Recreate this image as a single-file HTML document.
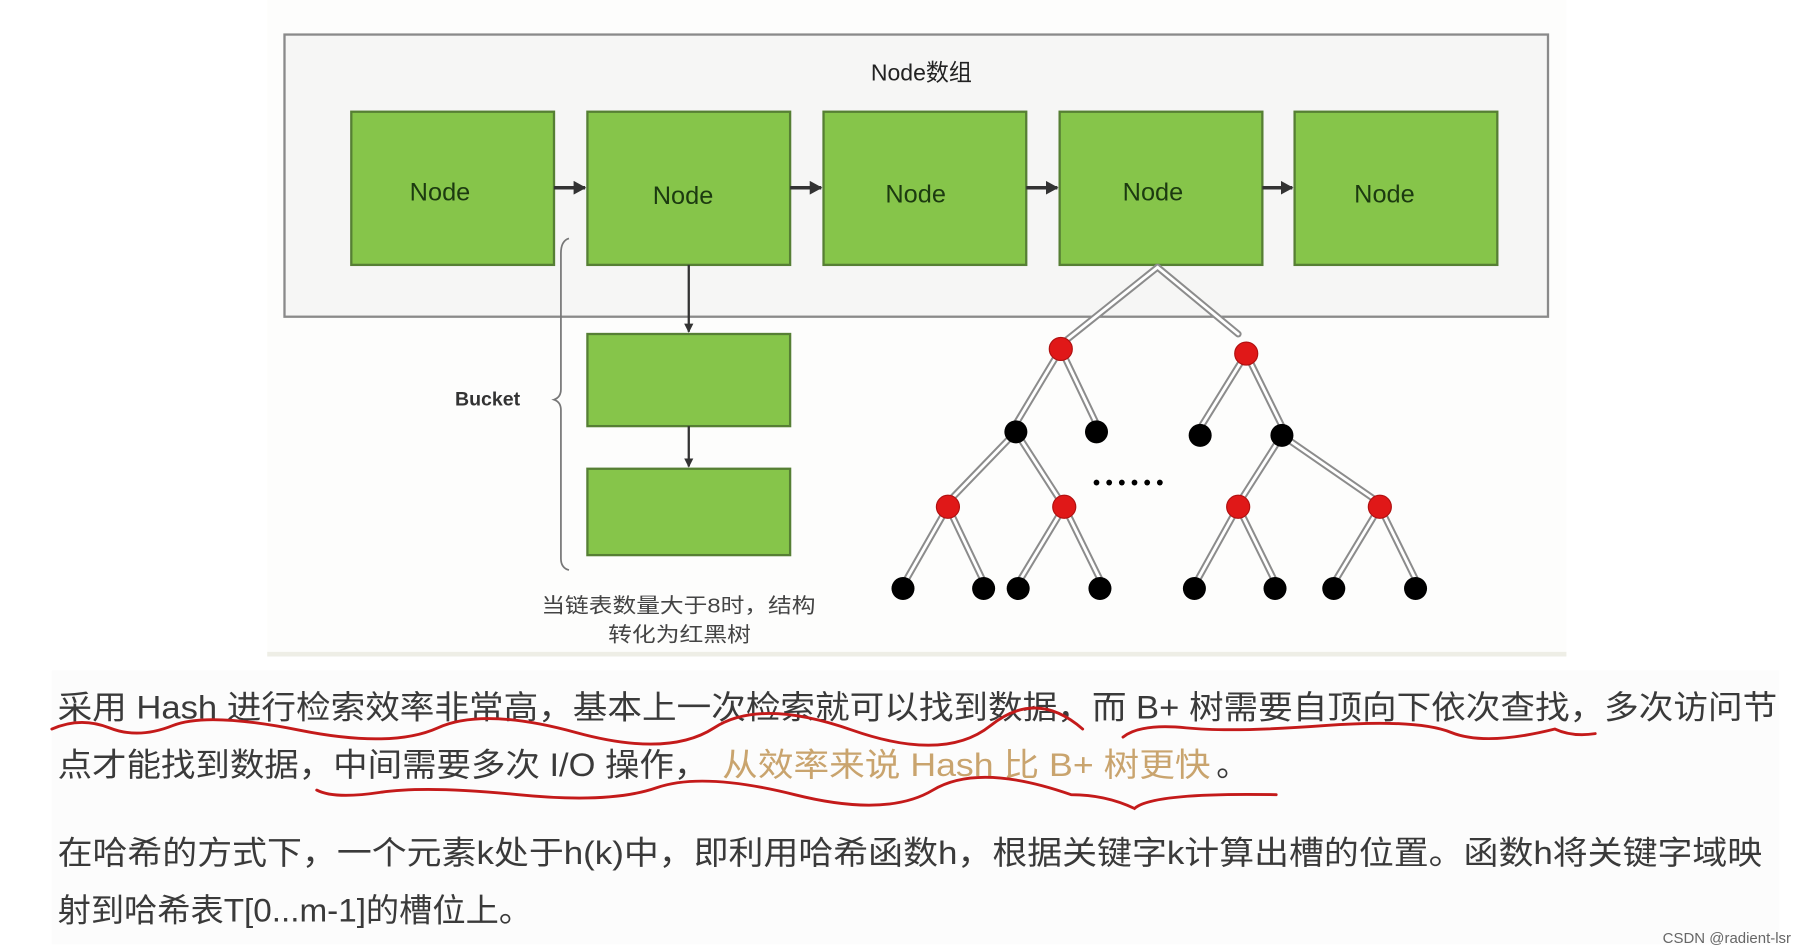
<!DOCTYPE html>
<html><head><meta charset="utf-8">
<style>
html,body{margin:0;padding:0;background:#fff;width:1806px;height:952px;overflow:hidden}
svg{display:block}
text{font-family:"Liberation Sans","Noto Sans CJK SC",sans-serif}
</style></head>
<body>
<svg width="1806" height="952" viewBox="0 0 1568 826.6" preserveAspectRatio="none" xmlns="http://www.w3.org/2000/svg">
<defs>
<marker id="ah" markerWidth="8" markerHeight="8" refX="7" refY="4" orient="auto" markerUnits="userSpaceOnUse"><path d="M0,0 L8,4 L0,8 z" fill="#333"/></marker>
<marker id="ah2" markerWidth="12" markerHeight="12" refX="10" refY="6" orient="auto" markerUnits="userSpaceOnUse"><path d="M0,0 L11,6 L0,12 z" fill="#333"/></marker>
</defs>
<rect x="232" y="0" width="1128" height="570" fill="#fdfdfc"/>
<rect x="232" y="566" width="1128" height="4" fill="#eeeee6"/>
<rect x="247" y="30" width="1097" height="245" fill="#f6f6f5" stroke="#8a8a8a" stroke-width="2"/>
<text x="800" y="70" font-size="20" text-anchor="middle" fill="#222">Node数组</text>
<g fill="#86c54a" stroke="#567f34" stroke-width="2">
<rect x="305" y="97" width="176" height="133"/>
<rect x="510" y="97" width="176" height="133"/>
<rect x="715" y="97" width="176" height="133"/>
<rect x="920" y="97" width="176" height="133"/>
<rect x="1124" y="97" width="176" height="133"/>
<rect x="510" y="290" width="176" height="80"/>
<rect x="510" y="407" width="176" height="75"/>
</g>
<g font-size="22" fill="#1c3a10" text-anchor="middle">
<text x="382" y="174">Node</text>
<text x="593" y="177">Node</text>
<text x="795" y="176">Node</text>
<text x="1001" y="174">Node</text>
<text x="1202" y="176">Node</text>
</g>
<g stroke="#333" stroke-width="3" marker-end="url(#ah2)">
<line x1="481" y1="163" x2="508" y2="163"/>
<line x1="686" y1="163" x2="713" y2="163"/>
<line x1="891" y1="163" x2="918" y2="163"/>
<line x1="1096" y1="163" x2="1122" y2="163"/>
</g>
<g stroke="#333" stroke-width="2" marker-end="url(#ah)">
<line x1="598" y1="230" x2="598" y2="288"/>
<line x1="598" y1="370" x2="598" y2="405"/>
</g>
<path d="M494,207 Q487,209 487,220 L487,338 Q487,345 481,347 Q487,349 487,356 L487,485 Q487,493 494,495" fill="none" stroke="#777" stroke-width="1.5"/>
<text x="395" y="352" font-size="17" font-weight="bold" fill="#333">Bucket</text>
<text x="470" y="532" font-size="18" fill="#444" textLength="238" lengthAdjust="spacingAndGlyphs">当链表数量大于8时，结构</text>
<text x="528" y="557" font-size="18" fill="#444" textLength="124" lengthAdjust="spacingAndGlyphs">转化为红黑树</text>
<!-- tree edges -->
<g fill="none" stroke-linecap="round">
<g stroke="#8c8c8c" stroke-width="6">
<path d="M1005,232 L925,296 M1005,232 L1075,290 M921,303 L882,368 M921,303 L952,368 M1082,307 L1043,370 M1082,307 L1113,370 M882,375 L826,433 M882,375 L920,434 M1113,378 L1078,433 M1113,378 L1194,434 M823,440 L787,503 M823,440 L853,503 M924,440 L886,503 M924,440 L955,503 M1075,440 L1040,503 M1075,440 L1106,503 M1198,440 L1160,503 M1198,440 L1229,503"/>
</g>
<g stroke="#fff" stroke-width="2.5">
<path d="M1005,232 L925,296 M1005,232 L1075,290 M921,303 L882,368 M921,303 L952,368 M1082,307 L1043,370 M1082,307 L1113,370 M882,375 L826,433 M882,375 L920,434 M1113,378 L1078,433 M1113,378 L1194,434 M823,440 L787,503 M823,440 L853,503 M924,440 L886,503 M924,440 L955,503 M1075,440 L1040,503 M1075,440 L1106,503 M1198,440 L1160,503 M1198,440 L1229,503"/>
</g>
</g>
<g fill="#e01818" stroke="#b01010">
<circle cx="921" cy="303" r="10"/><circle cx="1082" cy="307" r="10"/>
<circle cx="823" cy="440" r="10"/><circle cx="924" cy="440" r="10"/>
<circle cx="1075" cy="440" r="10"/><circle cx="1198" cy="440" r="10"/>
</g>
<g fill="#000">
<circle cx="882" cy="375" r="10"/><circle cx="952" cy="375" r="10"/>
<circle cx="1042" cy="378" r="10"/><circle cx="1113" cy="378" r="10"/>
<circle cx="784" cy="511" r="10"/><circle cx="854" cy="511" r="10"/>
<circle cx="884" cy="511" r="10"/><circle cx="955" cy="511" r="10"/>
<circle cx="1037" cy="511" r="10"/><circle cx="1107" cy="511" r="10"/>
<circle cx="1158" cy="511" r="10"/><circle cx="1229" cy="511" r="10"/>
<circle cx="952" cy="419" r="2.5"/><circle cx="963" cy="419" r="2.5"/><circle cx="974" cy="419" r="2.5"/><circle cx="985" cy="419" r="2.5"/><circle cx="996" cy="419" r="2.5"/><circle cx="1007" cy="419" r="2.5"/>
</g>
<!-- text block -->
<rect x="45" y="582" width="1500" height="238" fill="#fcfcfc"/>
<g font-size="28" fill="#3a3a3a">
<text x="50" y="624" textLength="1493" lengthAdjust="spacingAndGlyphs">采用 Hash 进行检索效率非常高，基本上一次检索就可以找到数据，而 B+ 树需要自顶向下依次查找，多次访问节</text>
<text x="50" y="674" textLength="565" lengthAdjust="spacingAndGlyphs">点才能找到数据，中间需要多次 I/O 操作，</text>
<text x="627" y="674" textLength="424" lengthAdjust="spacingAndGlyphs" fill="#c9a46e">从效率来说 Hash 比 B+ 树更快</text>
<text x="1056" y="674">。</text>
<text x="50" y="750" textLength="1480" lengthAdjust="spacingAndGlyphs">在哈希的方式下，一个元素k处于h(k)中，即利用哈希函数h，根据关键字k计算出槽的位置。函数h将关键字域映</text>
<text x="50" y="800" textLength="412" lengthAdjust="spacingAndGlyphs">射到哈希表T[0...m-1]的槽位上。</text>
</g>
<g fill="none" stroke="#c41a1a" stroke-width="2.5" stroke-linecap="round">
<path d="M45,633 Q70,622 95,632 T150,630 T260,634 T380,632 T500,636 T620,632 T740,634 T860,630 T940,633"/>
<path d="M975,640 Q990,628 1030,632 T1150,630 T1260,636 T1350,633 Q1365,640 1385,637"/>
<path d="M275,686 Q290,694 330,688 T450,690 T570,684 T690,690 T810,686 T930,690 Q960,690 985,702 Q1000,688 1108,690"/>
</g>
<text x="1555" y="819" font-size="13" fill="#666" text-anchor="end">CSDN @radient-lsr</text>
</svg>
</body></html>
